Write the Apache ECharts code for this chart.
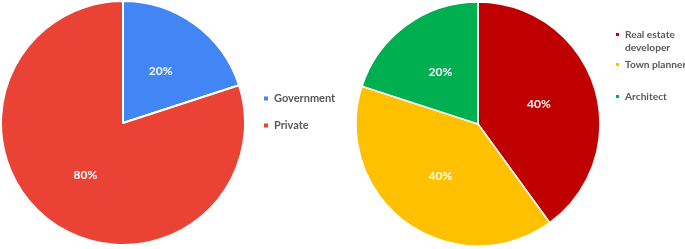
<!DOCTYPE html>
<html><head><meta charset="utf-8">
<script src="https://cdn.jsdelivr.net/npm/echarts@6/dist/echarts.min.js"></script>
<style>html,body{margin:0;padding:0;background:#fff}#c{width:685px;height:249px}</style>
</head><body><div id="c"></div>
<script>
const leftNames = ['Government', 'Private'];
const leftValues = [20, 80];
const leftColors = ['#4285F4', '#EA4335'];
const rightNames = ['Real estate\ndeveloper', 'Town planner', 'Architect'];
const rightValues = [40, 40, 20];
const rightColors = ['#C00000', '#FFC000', '#00B050'];

const chart = echarts.init(document.getElementById('c'), null, {renderer: 'canvas'});
const font = 'Lato, "Liberation Sans", sans-serif';
const legendText = {color: '#595959', fontSize: 11, fontWeight: 'bold', fontFamily: font, lineHeight: 13, overflow: 'none'};
const legendTextR = Object.assign({}, legendText, {fontSize: 10.2});
function mk(names, values, colors) {
  return names.map((n, i) => ({name: n, value: values[i], itemStyle: {color: colors[i]}}));
}
const lbl = {show: true, position: 'inside', formatter: '{d}%', color: '#fff', fontSize: 12, fontWeight: 'bold', fontFamily: font};
function legend(data, left, top, extra) {
  return Object.assign({data: data, orient: 'vertical', left: left, top: top, itemWidth: 5, itemHeight: 5,
    itemGap: 12, icon: 'rect', selectedMode: false, textStyle: Object.assign({}, legendTextR), padding: 0}, extra || {});
}
chart.setOption({
  animation: false,
  legend: [
    legend(leftNames, 262, 92, {itemGap: 14, itemWidth: 6, itemHeight: 6, textStyle: Object.assign({}, legendText)}),
    legend([rightNames[0]], 614, 28, {itemHeight: 18, icon: 'path://M0,0h5v5h-5z M0,18h0.01v0.01h-0.01z'}),
    legend([rightNames[1]], 614, 58),
    legend([rightNames[2]], 614, 90)
  ],
  series: [
    {type: 'pie', center: [123, 123], radius: [0, 122], startAngle: 90, clockwise: true,
     itemStyle: {borderColor: '#fff', borderWidth: 2}, label: lbl, labelLine: {show: false},
     data: mk(leftNames, leftValues, leftColors)},
    {type: 'pie', center: [478, 124], radius: [0, 122], startAngle: 90, clockwise: true,
     itemStyle: {borderColor: '#fff', borderWidth: 1.5}, label: lbl, labelLine: {show: false},
     data: mk(rightNames, rightValues, rightColors)}
  ]
});
</script></body></html>
